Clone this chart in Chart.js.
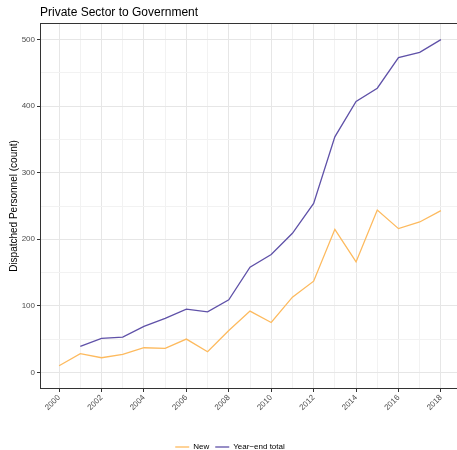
<!DOCTYPE html>
<html><head><meta charset="utf-8">
<script src="https://cdn.jsdelivr.net/npm/chart.js@4/dist/chart.umd.min.js"></script>
<style>
html,body{margin:0;padding:0;background:#fff;overflow:hidden;}
#wrap{width:457px;height:450px;overflow:hidden;}
#c{display:block;}
</style></head><body>
<div id="wrap"><canvas id="c" width="462" height="450" style="width:462px;height:450px"></canvas></div>
<script>
const chartTitle = 'Private Sector to Government';
const yAxisTitle = 'Dispatched Personnel (count)';
const seriesNames = ['New', 'Year\u2212end total'];
const yearsNew = [2000,2001,2002,2003,2004,2005,2006,2007,2008,2009,2010,2011,2012,2013,2014,2015,2016,2017,2018];
const valuesNew = [10,28,22,27,37,36,50,31,63,92,75,113,137,215,166,244,216,226,243];
const yearsTotal = [2001,2002,2003,2004,2005,2006,2007,2008,2009,2010,2011,2012,2013,2014,2015,2016,2017,2018];
const valuesTotal = [39,51,53,69,81,95,91,109,158,177,209,254,354,407,427,473,481,500];
const xTickLabels = ['2000','2002','2004','2006','2008','2010','2012','2014','2016','2018'];
const yTickLabels = ['0','100','200','300','400','500'];

const font = "'Liberation Sans', Arial, sans-serif";
const colNew = '#FDBA5E';
const colTotal = '#5F51A8';

const xMinor = [];
for (let y = 2000; y <= 2018; y++) xMinor.push(y);
const yMinor = [];
for (let v = 0; v <= 500; v += 50) yMinor.push(v);
const isXMajor = v => xTickLabels.includes(String(v));
const isYMajor = v => yTickLabels.includes(String(v));

const panelPlugin = {
  id: 'panel',
  afterDraw(chart) {
    const a = chart.chartArea, ctx = chart.ctx;
    const l = Math.round(a.left), t = Math.round(a.top);
    const r = Math.round(a.right), b = Math.round(a.bottom);
    ctx.save();
    ctx.fillStyle = '#333333';
    ctx.fillRect(l, t, r - l, 1);
    ctx.fillRect(l, b - 1, r - l, 1);
    ctx.fillRect(l, t, 1, b - t);
    ctx.fillRect(r - 1, t, 1, b - t);
    ctx.fillStyle = '#000';
    ctx.font = '12px ' + font;
    ctx.textBaseline = 'alphabetic';
    ctx.textAlign = 'left';
    ctx.fillText(chartTitle, a.left, 16);
    ctx.restore();
  }
};

new Chart(document.getElementById('c'), {
  type: 'line',
  data: {
    datasets: [
      { label: seriesNames[0], data: yearsNew.map((x, i) => ({x, y: valuesNew[i]})),
        borderColor: colNew, backgroundColor: colNew, borderWidth: 1.3, pointRadius: 0, tension: 0 },
      { label: seriesNames[1], data: yearsTotal.map((x, i) => ({x, y: valuesTotal[i]})),
        borderColor: colTotal, backgroundColor: colTotal, borderWidth: 1.3, pointRadius: 0, tension: 0 }
    ]
  },
  options: {
    responsive: false,
    animation: false,
    layout: { padding: { top: 23, left: 0, right: 2, bottom: -11 } },
    plugins: {
      title: { display: false },
      tooltip: { enabled: false },
      legend: {
        position: 'bottom',
        labels: {
          usePointStyle: true, pointStyle: 'line', pointStyleWidth: 14,
          font: { family: font, size: 8 }, color: '#000', padding: 6, boxHeight: 8
        }
      }
    },
    scales: {
      x: {
        type: 'linear', min: 1999.1, max: 2018.9,
        afterBuildTicks: s => { s.ticks = xMinor.map(v => ({value: v})); },
        afterFit: s => { s.height = 48; },
        ticks: {
          autoSkip: false, minRotation: 45, maxRotation: 45, padding: 1,
          font: { family: font, size: 8 }, color: '#4d4d4d',
          callback: v => isXMajor(v) ? String(v) : ''
        },
        grid: {
          color: ctx => isXMajor(ctx.tick && ctx.tick.value) ? '#e6e6e6' : '#f2f2f2',
          lineWidth: 1, tickLength: 3,
          tickColor: ctx => isXMajor(ctx.tick && ctx.tick.value) ? '#333333' : 'rgba(0,0,0,0)'
        },
        border: { display: false }
      },
      y: {
        type: 'linear', min: -25, max: 525,
        afterBuildTicks: s => { s.ticks = yMinor.map(v => ({value: v})); },
        afterFit: s => { s.width = 40; },
        ticks: {
          padding: 2, font: { family: font, size: 8 }, color: '#4d4d4d',
          callback: v => isYMajor(v) ? String(v) : ''
        },
        grid: {
          color: ctx => isYMajor(ctx.tick && ctx.tick.value) ? '#e6e6e6' : '#f2f2f2',
          lineWidth: 1, tickLength: 3,
          tickColor: ctx => isYMajor(ctx.tick && ctx.tick.value) ? '#333333' : 'rgba(0,0,0,0)'
        },
        border: { display: false },
        title: { display: true, text: yAxisTitle, font: { family: font, size: 10 }, color: '#000', padding: { top: 8, bottom: 0 } }
      }
    }
  },
  plugins: [panelPlugin]
});
</script>
</body></html>
